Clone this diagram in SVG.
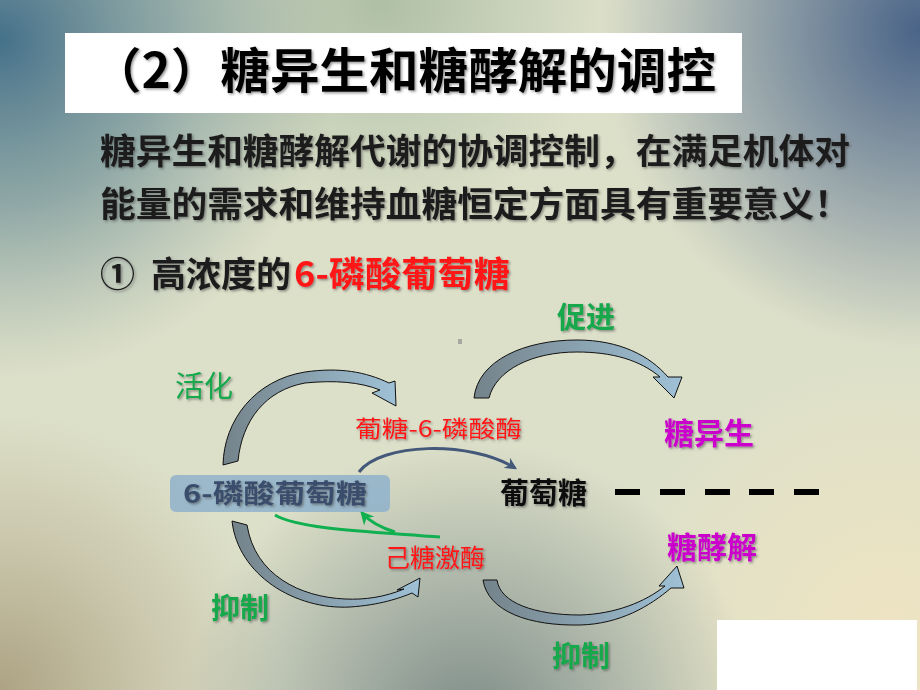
<svg xmlns="http://www.w3.org/2000/svg" width="920" height="690" viewBox="0 0 920 690">
<defs>
<radialGradient id="bgTL" cx="0" cy="40" r="340" gradientUnits="userSpaceOnUse"><stop offset="0" stop-color="#45708a" stop-opacity="1"/><stop offset="0.5" stop-color="#5f8590" stop-opacity="0.6"/><stop offset="1" stop-color="#7f9a98" stop-opacity="0"/></radialGradient>
<radialGradient id="bgTR" cx="920" cy="30" r="320" gradientUnits="userSpaceOnUse"><stop offset="0" stop-color="#4a6488" stop-opacity="1"/><stop offset="1" stop-color="#4a6488" stop-opacity="0"/></radialGradient>
<radialGradient id="bgTC" cx="380" cy="0" r="230" gradientUnits="userSpaceOnUse"><stop offset="0" stop-color="#a9bba2" stop-opacity="0.9"/><stop offset="1" stop-color="#a9bba2" stop-opacity="0"/></radialGradient>
<radialGradient id="bgBC" cx="470" cy="730" r="290" gradientUnits="userSpaceOnUse"><stop offset="0" stop-color="#768684" stop-opacity="0.95"/><stop offset="1" stop-color="#768684" stop-opacity="0"/></radialGradient>
<radialGradient id="bgBL" cx="0" cy="690" r="280" gradientUnits="userSpaceOnUse"><stop offset="0" stop-color="#ada284" stop-opacity="1"/><stop offset="1" stop-color="#b8b090" stop-opacity="0"/></radialGradient>
<radialGradient id="bgBR" cx="890" cy="640" r="280" gradientUnits="userSpaceOnUse"><stop offset="0" stop-color="#efe4c2" stop-opacity="1"/><stop offset="1" stop-color="#efe4c2" stop-opacity="0"/></radialGradient>
<linearGradient id="arrGrad" x1="0" y1="0" x2="1" y2="0"><stop offset="0" stop-color="#74838a"/><stop offset="1" stop-color="#9fc1d6"/></linearGradient>
<filter id="sh" x="-10%" y="-20%" width="130%" height="150%"><feDropShadow dx="1.5" dy="1.5" stdDeviation="1" flood-color="#444" flood-opacity="0.55"/></filter>
<marker id="mBlue" viewBox="0 0 10 10" refX="8" refY="5" markerWidth="4" markerHeight="4" orient="auto"><path d="M0,0 L10,5 L0,10 L3,5 Z" fill="#44587a"/></marker>
<marker id="mGreen" viewBox="0 0 10 10" refX="8" refY="5" markerWidth="4.5" markerHeight="4.5" orient="auto"><path d="M0,0 L10,5 L0,10 L3,5 Z" fill="#10b050"/></marker>
<style>
.t{font-family:"Noto Sans CJK SC","Noto Sans",sans-serif;font-weight:700}
.reg{font-weight:400}
.body{font-size:35px;fill:#1e1e1e}
.grn{fill:#12a84c;font-size:29px}
.red{fill:#ff1414}
.mag{fill:#cc00cc;font-size:30px}
.arr{fill:url(#arrGrad);stroke:#111;stroke-width:1}
</style>
</defs>
<g id="background">
<rect width="920" height="690" fill="#dde0c9"/>
<rect width="920" height="690" fill="url(#bgBR)"/>
<rect width="920" height="690" fill="url(#bgBL)"/>
<rect width="920" height="690" fill="url(#bgBC)"/>
<rect width="920" height="690" fill="url(#bgTC)"/>
<rect width="920" height="690" fill="url(#bgTL)"/>
<rect width="920" height="690" fill="url(#bgTR)"/>
<rect x="717" y="620" width="200" height="70" fill="#ffffff"/>
<rect x="458" y="339" width="4" height="5" fill="#a8a8a0"/>
</g>
<g id="title">
<rect x="65" y="33" width="677" height="80" fill="#ffffff"/>
<text class="t" x="92" y="88" font-size="48" textLength="624" lengthAdjust="spacingAndGlyphs" fill="#000" filter="url(#sh)">（2）糖异生和糖酵解的调控</text>
</g>
<g id="body-text" filter="url(#sh)">
<text class="t body" x="100" y="164" textLength="750" lengthAdjust="spacingAndGlyphs">糖异生和糖酵解代谢的协调控制，在满足机体对</text>
<text class="t body" x="100" y="217" textLength="750" lengthAdjust="spacingAndGlyphs">能量的需求和维持血糖恒定方面具有重要意义！</text>
<text class="t body" x="100" y="287">①<tspan x="151">高浓度的</tspan></text>
<text class="t body red" x="294" y="287" textLength="216" lengthAdjust="spacingAndGlyphs">6-磷酸葡萄糖</text>
</g>
<g id="connectors">
<path id="arrow-promote" class="arr" d="M474,398 C478,360 525,340 577,340 C620,340 650,356 668,377 L682,377 L674,398 L653,377 L660,377 C640,360 612,352 577,352 C532,352 496,370 489,398 Z"/>
<path id="arrow-activate" class="arr" d="M223,465 C224,420 255,380 305,372 C340,367 366,372 389,383 L395,381 L396,406 L372,393 L380,390 C360,382 335,380 305,383 C266,390 242,420 238,461 Z"/>
<path id="arrow-inhibit1" class="arr" d="M232,521 C238,575 295,610 350,607 C380,605 400,598 412,593 L418,597 L420,578 L397,590 L404,589 C385,597 365,600 345,599 C300,597 255,575 247,525 Z"/>
<path id="arrow-inhibit2" class="arr" d="M483,580 C488,612 530,626 580,625 C620,624 650,606 671,588 L684,588 L677,566 L659,586 L665,586 C645,602 615,614 580,615 C535,615 500,603 497,580 Z"/>
<path id="arrow-g6pase" d="M359,472 C380,443 470,440 515,468" fill="none" stroke="#44587a" stroke-width="3" marker-end="url(#mBlue)"/>
<path id="arrow-hk-line" d="M275,515 C300,530 380,532 440,537" fill="none" stroke="#10b050" stroke-width="3"/>
<path id="arrow-hk" d="M395,532 C382,528 370,522 362,513" fill="none" stroke="#10b050" stroke-width="3" marker-end="url(#mGreen)"/>
<g id="dashes" stroke="#000" stroke-width="6">
<line x1="615" y1="492" x2="640" y2="492"/>
<line x1="660" y1="492" x2="685" y2="492"/>
<line x1="705" y1="492" x2="730" y2="492"/>
<line x1="749" y1="492" x2="774" y2="492"/>
<line x1="794" y1="492" x2="819" y2="492"/>
</g>
</g>
<g id="node-g6p">
<rect x="170" y="475" width="220" height="37" rx="6" fill="#8fb1cb" fill-opacity="0.85"/>
<text class="t" x="183" y="503" font-size="26" textLength="184" lengthAdjust="spacingAndGlyphs" fill="#3a4e6c" filter="url(#sh)">6-磷酸葡萄糖</text>
</g>
<g id="node-glucose"><text class="t" x="500" y="504" font-size="29" fill="#111" filter="url(#sh)">葡萄糖</text></g>
<g id="node-g6pase"><text class="t red reg" x="355" y="437" font-size="23" textLength="167" lengthAdjust="spacingAndGlyphs" filter="url(#sh)">葡糖-6-磷酸酶</text></g>
<g id="node-hk"><text class="t red reg" x="385" y="567" font-size="25" filter="url(#sh)">己糖激酶</text></g>
<g id="node-gng"><text class="t mag" x="664" y="444" filter="url(#sh)">糖异生</text></g>
<g id="node-glycolysis"><text class="t mag" x="667" y="558" filter="url(#sh)">糖酵解</text></g>
<g id="labels" filter="url(#sh)">
<text class="t grn" x="557" y="328">促进</text>
<text class="t grn reg" x="175" y="397">活化</text>
<text class="t grn" x="211" y="619">抑制</text>
<text class="t grn" x="552" y="667">抑制</text>
</g>
</svg>
